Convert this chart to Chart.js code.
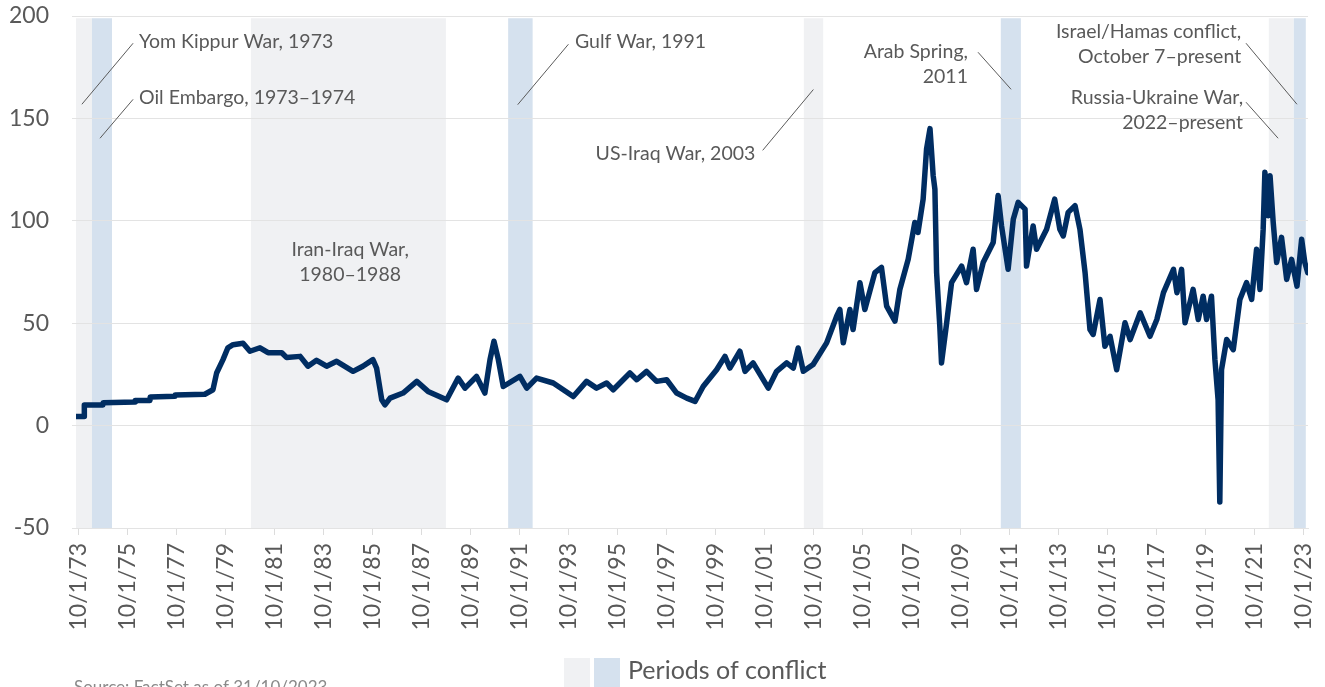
<!DOCTYPE html>
<html><head><meta charset="utf-8">
<script src="https://cdn.jsdelivr.net/npm/chart.js@4.4.0/dist/chart.umd.min.js"></script>
<style>html,body{margin:0;padding:0;background:#fff;overflow:hidden}canvas{display:block}</style>
</head><body>
<canvas id="c" width="1325" height="687"></canvas>
<script>
// ---- Data (decimal years, USD per barrel) ----
const dates = [
 1973.64,1973.97,1973.98,1974.74,1974.75,1976.05,1976.06,1976.66,1976.67,1977.68,1977.69,1978.90,
 1979.23,1979.38,1979.64,1979.84,1980.05,1980.46,1980.74,1981.15,1981.48,1982.04,1982.24,1982.79,
 1983.11,1983.46,1983.87,1984.28,1984.95,1985.35,1985.76,1985.91,1986.12,1986.25,1986.46,1986.99,
 1987.55,1988.01,1988.77,1989.24,1989.52,1989.99,1990.33,1990.54,1990.70,1990.88,1991.08,1991.76,
 1992.04,1992.44,1993.12,1993.94,1994.48,1994.89,1995.30,1995.57,1996.25,1996.53,1996.93,1997.34,
 1997.75,1998.16,1998.57,1998.91,1999.24,1999.79,2000.13,2000.33,2000.74,2000.95,2001.28,2001.90,
 2002.24,2002.65,2002.92,2003.12,2003.33,2003.73,2004.28,2004.69,2004.82,2004.96,2005.23,2005.36,
 2005.64,2005.84,2006.25,2006.52,2006.73,2007.07,2007.27,2007.61,2007.88,2008.01,2008.22,2008.36,
 2008.50,2008.63,2008.70,2008.77,2008.90,2008.97,2009.18,2009.38,2009.79,2009.99,2010.26,2010.40,
 2010.67,2011.08,2011.28,2011.42,2011.69,2011.90,2012.10,2012.38,2012.44,2012.71,2012.85,2013.26,
 2013.59,2013.80,2013.94,2014.14,2014.42,2014.62,2014.83,2015.03,2015.16,2015.44,2015.64,2015.85,
 2016.12,2016.46,2016.67,2017.08,2017.48,2017.76,2018.03,2018.44,2018.58,2018.77,2018.91,2019.24,
 2019.45,2019.65,2019.79,2019.99,2020.13,2020.26,2020.33,2020.40,2020.61,2020.88,2021.15,2021.42,
 2021.63,2021.83,2021.97,2022.10,2022.17,2022.31,2022.38,2022.51,2022.65,2022.85,2023.06,2023.26,
 2023.48,2023.67,2023.80,2023.92
];
const prices = [
 4.4,4.4,10.1,10.1,11.2,11.5,12.3,12.3,14.0,14.3,15.0,15.3,
 17.5,25.7,32.2,38.0,39.5,40.2,36.3,38.0,35.6,35.6,33.2,33.8,
 29.0,31.9,29.0,31.4,26.5,29.0,32.2,28.1,12.6,10.1,13.4,15.9,
 21.6,16.7,12.6,23.2,18.3,24.0,15.9,32.2,41.2,32.2,19.1,24.0,
 18.3,23.2,20.8,14.2,21.6,18.3,20.8,17.5,25.7,22.4,26.5,21.6,
 22.4,15.9,13.4,11.8,19.1,27.3,33.8,28.1,36.3,26.5,30.6,18.3,
 26.5,30.6,28.1,37.9,26.5,29.8,40.4,53.4,56.7,40.4,56.7,46.9,
 69.8,56.7,74.7,77.2,58.3,51.0,66.5,81.2,99.2,94.3,110.6,135.1,
 145.0,122.0,115.5,74.7,48.5,30.6,50.2,69.8,77.9,69.8,86.1,66.5,
 79.6,89.4,112.3,97.5,76.3,100.8,109.0,105.7,77.9,97.5,86.1,95.9,
 110.6,95.9,92.6,104.1,107.4,95.9,74.7,46.9,44.5,61.6,38.7,43.6,
 27.3,50.2,42.0,55.1,43.6,51.8,64.9,76.3,64.9,76.3,50.2,66.5,
 51.8,63.2,51.8,63.2,32.2,12.6,-37.3,27.3,42.0,37.1,61.6,69.8,
 61.6,86.1,66.5,95.9,123.7,102.5,122.0,99.2,79.6,91.9,71.4,81.2,
 68.1,91.0,79.6,74.7
];
const tickLabels = ['10/1/73','10/1/75','10/1/77','10/1/79','10/1/81','10/1/83','10/1/85','10/1/87','10/1/89',
 '10/1/91','10/1/93','10/1/95','10/1/97','10/1/99','10/1/01','10/1/03','10/1/05','10/1/07','10/1/09',
 '10/1/11','10/1/13','10/1/15','10/1/17','10/1/19','10/1/21','10/1/23'];
const yTicks = [-50,0,50,100,150,200];
const conflictNames = ['Yom Kippur War','Oil Embargo','Iran-Iraq War','Gulf War','US-Iraq War','Arab Spring','Russia-Ukraine War','Israel/Hamas conflict'];
const conflictStart = [1973.64,1974.29,1980.78,1991.28,2003.35,2011.39,2022.33,2023.35];
const conflictEnd   = [1974.29,1975.11,1988.74,1992.28,2004.14,2012.21,2023.35,2023.84];
const conflictShade = [0,1,0,1,0,1,0,1];

// ---- Styling / layout ----
const FONT = 'Lato, "Source Sans Pro", "Noto Sans", sans-serif';
const TEXT = '#595959';
const SHADES = ['#f0f1f3','#d5e1ee'];
const X_MIN = 1973.64, X_MAX = 2023.93;

function labelToYear(l){ const p=l.split('/'); const yy=+p[2]; return (yy<50?2000:1900)+yy+(+p[0]-1)/12; }
const tickValues = tickLabels.map(labelToYear);

const notes = [
 {lines:['Yom Kippur War, 1973'], x:1976.21, y:184.2, align:'left', from:[1973.88,156.9], to:[1975.97,186.7]},
 {lines:['Oil Embargo, 1973\u20131974'], x:1976.21, y:156.9, align:'left', from:[1974.62,140.3], to:[1975.97,159.3]},
 {lines:['Iran-Iraq War,','1980\u20131988'], x:1984.83, y:82.6, align:'center'},
 {lines:['Gulf War, 1991'], x:1994.01, y:184.6, align:'left', from:[1991.67,156.7], to:[1993.74,186.2]},
 {lines:['US-Iraq War, 2003'], x:2001.37, y:129.5, align:'right', from:[2001.67,134.4], to:[2003.74,164.1]},
 {lines:['Arab Spring,','2011'], x:2010.05, y:179.3, align:'right', from:[2010.46,182.3], to:[2011.81,164.2]},
 {lines:['Israel/Hamas conflict,','October 7\u2013present'], x:2021.2, y:189.1, align:'right', from:[2021.40,186.7], to:[2023.48,156.9]},
 {lines:['Russia-Ukraine War,','2022\u2013present'], x:2021.28, y:156.9, align:'right', from:[2021.40,157.9], to:[2022.71,140.3]}
];

const bandsPlugin = {
 id:'bands',
 beforeDraw(chart){
  const {ctx, scales:{x,y}} = chart;
  ctx.save();
  const top = y.getPixelForValue(198.9), bot = y.getPixelForValue(-50);
  conflictStart.forEach((s,i)=>{
   const x0 = x.getPixelForValue(s), x1 = x.getPixelForValue(conflictEnd[i]);
   ctx.fillStyle = SHADES[conflictShade[i]];
   ctx.fillRect(x0, top, x1-x0, bot-top);
  });
  ctx.restore();
 }
};

const notesPlugin = {
 id:'notes',
 afterDraw(chart){
  const {ctx, scales:{x,y}} = chart;
  ctx.save();
  ctx.font = '19.5px ' + FONT;
  ctx.fillStyle = TEXT;
  ctx.textBaseline = 'alphabetic';
  notes.forEach(n=>{
   ctx.textAlign = n.align;
   const px = x.getPixelForValue(n.x), py = y.getPixelForValue(n.y);
   n.lines.forEach((t,i)=>ctx.fillText(t, px, py + i*25));
   if(n.from){
    ctx.strokeStyle = '#5a5a5a'; ctx.lineWidth = 1;
    ctx.beginPath();
    ctx.moveTo(x.getPixelForValue(n.from[0]), y.getPixelForValue(n.from[1]));
    ctx.lineTo(x.getPixelForValue(n.to[0]), y.getPixelForValue(n.to[1]));
    ctx.stroke();
   }
  });
  // legend
  ctx.fillStyle = SHADES[0]; ctx.fillRect(564, 658, 26, 29);
  ctx.fillStyle = SHADES[1]; ctx.fillRect(594, 658, 26, 29);
  ctx.fillStyle = TEXT; ctx.textAlign = 'left'; ctx.textBaseline = 'middle';
  ctx.font = '25px ' + FONT;
  ctx.fillText('Periods of conflict', 628, 671);
  // source
  ctx.fillStyle = '#8a8a8a'; ctx.textBaseline = 'alphabetic';
  ctx.font = '17px ' + FONT;
  ctx.fillText('Source: FactSet as of 31/10/2023', 74, 693);
  ctx.restore();
 }
};

function build(){
 const points = dates.map((d,i)=>({x:d, y:prices[i]}));
 new Chart(document.getElementById('c'), {
  type:'line',
  data:{datasets:[{data:points, borderColor:'#002d62', borderWidth:5.5, pointRadius:0,
    borderJoinStyle:'round', borderCapStyle:'round', tension:0, fill:false}]},
  options:{
   responsive:false, animation:false, devicePixelRatio:1,
   layout:{padding:{top:16, right:17, bottom:0, left:0}},
   plugins:{legend:{display:false}, tooltip:{enabled:false}},
   scales:{
    x:{type:'linear', min:X_MIN, max:X_MAX,
     afterBuildTicks:s=>{ s.ticks = tickValues.map(v=>({value:v})); },
     afterFit:s=>{ s.height = 159; s.paddingLeft = 0; s.paddingRight = 0; s.paddingTop = 0; s.paddingBottom = 0; },
     ticks:{autoSkip:false, maxRotation:90, minRotation:90, padding:8, color:TEXT,
      font:{family:FONT, size:23}, callback:(v,i)=>tickLabels[i]},
     grid:{drawOnChartArea:false, drawTicks:true, tickLength:7, color:'#dcdcdc'},
     border:{display:true, color:'#e3e3e3'}
    },
    y:{min:-50, max:200,
     afterBuildTicks:s=>{ s.ticks = yTicks.map(v=>({value:v})); },
     afterFit:s=>{ s.width = 76; s.paddingTop = 0; s.paddingBottom = 0; s.paddingLeft = 0; s.paddingRight = 0; },
     ticks:{padding:23, color:TEXT, font:{family:FONT, size:23}},
     grid:{color:'#e3e3e3', tickLength:4, drawTicks:true},
     border:{display:false}
    }
   }
  },
  plugins:[bandsPlugin, notesPlugin]
 });
}
if (document.fonts && document.fonts.load) {
 Promise.all([document.fonts.load('23px Lato'), document.fonts.load('19.5px Lato')]).then(build, build);
} else build();
</script>
</body></html>
